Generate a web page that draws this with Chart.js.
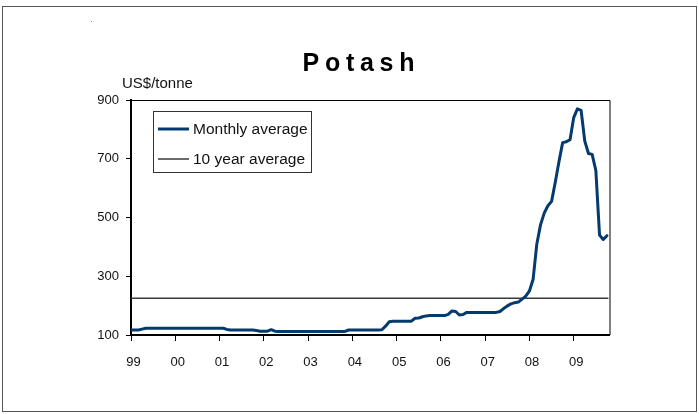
<!DOCTYPE html>
<html>
<head>
<meta charset="utf-8">
<script src="https://cdn.jsdelivr.net/npm/chart.js@4"></script>
<style>
  body { margin: 0; background: #fff; }
  #wrap { width: 699px; height: 414px; }
</style>
</head>
<body>
<div id="wrap"><canvas id="potashChart" width="699" height="414"></canvas></div>
<script>
// Year tick labels (one tick every January)
const yearLabels = ['99', '00', '01', '02', '03', '04', '05', '06', '07', '08', '09'];

// Monthly average potash price, US$/tonne, Jan 1999 .. Oct 2009
const monthly1999 = [117, 117, 117, 120, 123, 123, 123, 123, 123, 123, 123, 123];
const monthly2000 = [123, 123, 123, 123, 123, 123, 123, 123, 123, 123, 123, 123];
const monthly2001 = [123, 123, 119, 117, 117, 117, 117, 117, 117, 117, 115, 113];
const monthly2002 = [113, 113, 118, 113, 112, 112, 112, 112, 112, 112, 112, 112];
const monthly2003 = [112, 112, 112, 112, 112, 112, 112, 112, 112, 112, 112, 117];
const monthly2004 = [117, 117, 117, 117, 117, 117, 117, 117, 118, 130, 145, 147];
const monthly2005 = [147, 147, 147, 147, 147, 157, 158, 162, 165, 166, 166, 166];
const monthly2006 = [166, 166, 170, 182, 180, 168, 170, 177, 177, 177, 177, 177];
const monthly2007 = [177, 177, 177, 177, 180, 190, 199, 206, 210, 212, 222, 232];
const monthly2008 = [250, 290, 410, 475, 515, 540, 555, 620, 690, 755, 758, 765];
const monthly2009 = [840, 870, 865, 760, 718, 715, 660, 440, 425, 438];

const tenYearAverage = 225;

const monthlyValues = [].concat(monthly1999, monthly2000, monthly2001, monthly2002,
    monthly2003, monthly2004, monthly2005, monthly2006, monthly2007, monthly2008, monthly2009);

const xMax = 129.7;   // axis runs a little past the last month

const lineBlue = '#043a6e';
const avgGrey = '#3a3a3a';
const tickFont = { family: 'Liberation Sans, Arial, sans-serif', size: 13 };

// Frame, title, unit label and the boxed legend
const decorations = {
    id: 'decorations',
    beforeDraw(chart) {
        const ctx = chart.ctx;
        ctx.save();
        ctx.fillStyle = '#fff';
        ctx.fillRect(0, 0, chart.width, chart.height);
        ctx.strokeStyle = '#555';
        ctx.lineWidth = 1;
        ctx.strokeRect(2.5, 6.5, 694, 405);
        ctx.fillStyle = '#888';
        ctx.fillRect(91, 21, 1, 1);
        ctx.restore();
    },
    afterDraw(chart) {
        const ctx = chart.ctx;
        const area = chart.chartArea;
        ctx.save();

        // thin top and right edges of the plot box
        ctx.strokeStyle = '#000';
        ctx.lineWidth = 1;
        ctx.beginPath();
        ctx.moveTo(area.left, area.top + 0.5);
        ctx.lineTo(area.right + 0.5, area.top + 0.5);
        ctx.lineTo(area.right + 0.5, area.bottom);
        ctx.stroke();

        // spaced-out title
        const title = 'Potash';
        ctx.font = 'bold 25px "Liberation Sans", Arial, sans-serif';
        ctx.fillStyle = '#000';
        ctx.textBaseline = 'alphabetic';
        ctx.textAlign = 'left';
        const spacing = 5.7;
        let total = 0;
        for (const ch of title) total += ctx.measureText(ch).width;
        total += spacing * (title.length - 1);
        let x = 358.5 - total / 2;
        for (const ch of title) {
            ctx.fillText(ch, x, 71);
            x += ctx.measureText(ch).width + spacing;
        }

        // unit label
        ctx.font = '15px "Liberation Sans", Arial, sans-serif';
        ctx.fillStyle = '#111';
        ctx.fillText('US$/tonne', 122, 88);

        // legend box
        ctx.fillStyle = '#fff';
        ctx.fillRect(153, 111, 158, 61);
        ctx.strokeStyle = '#333';
        ctx.lineWidth = 1;
        ctx.strokeRect(153.5, 111.5, 158, 61);

        const rows = [129, 159];
        chart.data.datasets.forEach(function(ds, i) {
            ctx.strokeStyle = ds.borderColor;
            ctx.lineWidth = ds.borderWidth;
            ctx.beginPath();
            ctx.moveTo(158, rows[i]);
            ctx.lineTo(189, rows[i]);
            ctx.stroke();
            ctx.fillStyle = '#111';
            ctx.font = '15.5px "Liberation Sans", Arial, sans-serif';
            ctx.textBaseline = 'middle';
            ctx.fillText(ds.label, 193, rows[i] + 1);
        });
        ctx.restore();
    }
};

const ctx = document.getElementById('potashChart').getContext('2d');
const potashChart = new Chart(ctx, {
    type: 'line',
    data: {
        datasets: [{
            label: 'Monthly average',
            data: monthlyValues.map(function(v, i) { return { x: i, y: v }; }),
            borderColor: lineBlue,
            borderWidth: 3,
            pointRadius: 0,
            borderJoinStyle: 'round',
            borderCapStyle: 'round',
            tension: 0,
            fill: false
        }, {
            label: '10 year average',
            data: [{ x: 0, y: tenYearAverage }, { x: xMax - 0.3, y: tenYearAverage }],
            borderColor: avgGrey,
            borderWidth: 1.5,
            pointRadius: 0,
            fill: false
        }]
    },
    options: {
        responsive: false,
        devicePixelRatio: 1,
        animation: false,
        layout: {
            padding: { left: 0, top: 100, right: 89.5, bottom: 0 }
        },
        scales: {
            x: {
                type: 'linear',
                min: 0,
                max: xMax,
                afterBuildTicks: function(scale) {
                    scale.ticks = yearLabels.map(function(_, i) { return { value: i * 12 }; });
                },
                afterFit: function(scale) { scale.height = 79; },
                ticks: {
                    font: tickFont,
                    color: '#111',
                    padding: 14,
                    labelOffset: 2.5,
                    maxRotation: 0,
                    autoSkip: false,
                    callback: function(value) { return yearLabels[Math.round(value / 12)]; }
                },
                grid: { display: true, drawOnChartArea: false, drawTicks: true, tickLength: 6, color: '#000', lineWidth: 1 },
                border: { display: true, color: '#000', width: 2 }
            },
            y: {
                min: 100,
                max: 900,
                afterBuildTicks: function(scale) {
                    scale.ticks = [100, 300, 500, 700, 900].map(function(v) { return { value: v }; });
                },
                afterFit: function(scale) { scale.width = 131; },
                ticks: {
                    font: tickFont,
                    color: '#111',
                    padding: 7
                },
                grid: { display: true, drawOnChartArea: false, drawTicks: true, tickLength: 5, color: '#000', lineWidth: 1 },
                border: { display: true, color: '#000', width: 2 }
            }
        },
        plugins: {
            legend: { display: false },
            tooltip: { enabled: false }
        }
    },
    plugins: [decorations]
});
</script>
</body>
</html>
